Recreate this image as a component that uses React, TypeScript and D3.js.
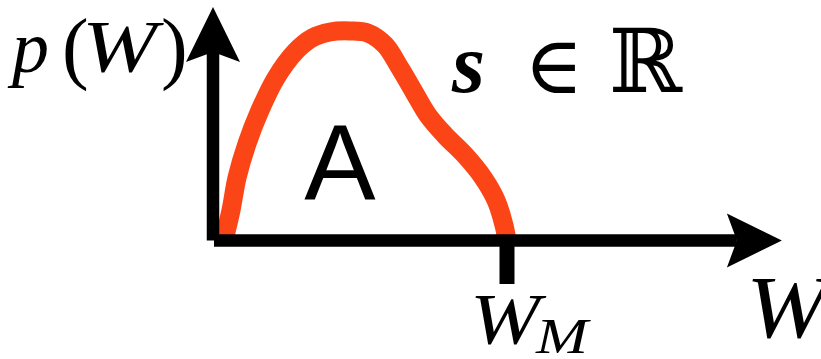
import React from "react";
import * as d3 from "d3";

// Density curve p(W), sampled along W (W_M = 1) with the peak normalised to 1
const curveW = [0.037, 0.061, 0.082, 0.116, 0.16, 0.214, 0.279, 0.337, 0.398, 0.466, 0.527, 0.585, 0.636, 0.684, 0.731, 0.789, 0.857, 0.918, 0.963, 0.99, 1.0];
const curveP = [0.0, 0.144, 0.303, 0.466, 0.625, 0.779, 0.904, 0.971, 1.0, 1.005, 0.995, 0.938, 0.827, 0.712, 0.601, 0.505, 0.409, 0.303, 0.192, 0.072, 0.0];

// Marked position on the W axis
const tickW = [1.0];
const tickLabels = ["W"];
const tickSubs = ["M"];

const xAxisMax = 1.935;
const yAxisMax = 1.12;

const WIDTH = 821;
const HEIGHT = 359;

const SERIF = "Liberation Serif";
const SANS = "Liberation Sans";
const MATH = "DejaVu Serif";

export default function App() {
  const x = d3.scaleLinear().domain([0, 1]).range([213, 507]);
  const y = d3.scaleLinear().domain([0, 1]).range([240.5, 32]);

  const pts: [number, number][] = curveW.map((w, i) => [w, curveP[i]]);
  const line = d3
    .line<[number, number]>()
    .x((d) => x(d[0]))
    .y((d) => y(d[1]))
    .curve(d3.curveCatmullRom.alpha(0.5));

  const x0 = x(0);
  const y0 = y(0);
  const xEnd = x(xAxisMax);
  const yEnd = y(yAxisMax);

  const axisW = 12.5;
  const headLen = 55;
  const headHalf = 27;
  const notch = 10;

  const vHead = `M${x0},${yEnd} L${x0 + headHalf},${yEnd + headLen} L${x0},${yEnd + headLen - notch} L${x0 - headHalf},${yEnd + headLen} Z`;
  const hHead = `M${xEnd},${y0} L${xEnd - headLen},${y0 - headHalf} L${xEnd - headLen + notch},${y0} L${xEnd - headLen},${y0 + headHalf} Z`;

  const italic = (size: number) => ({ fontFamily: SERIF, fontStyle: "italic" as const, fontSize: size });
  const upright = (size: number) => ({ fontFamily: SERIF, fontStyle: "normal" as const, fontSize: size });

  return (
    <svg
      width={WIDTH}
      height={HEIGHT}
      viewBox={`0 0 ${WIDTH} ${HEIGHT}`}
      style={{ position: "absolute", left: 0, top: 0, display: "block", background: "#fff" }}
    >
      {/* density curve */}
      <path d={line(pts) ?? ""} fill="none" stroke="#fc4516" strokeWidth={19} strokeLinejoin="round" />

      {/* vertical axis */}
      <line x1={x0} x2={x0} y1={y0} y2={yEnd + headLen - notch} stroke="#000" strokeWidth={axisW} />
      <path d={vHead} fill="#000" />

      {/* horizontal axis */}
      <line x1={x0 + 1} x2={xEnd - headLen + notch} y1={y0} y2={y0} stroke="#000" strokeWidth={axisW} />
      <path d={hHead} fill="#000" />

      {/* tick at W_M */}
      {tickW.map((t, i) => (
        <g key={i}>
          <line x1={x(t)} x2={x(t)} y1={y0} y2={284} stroke="#000" strokeWidth={15} />
          <text x={x(t) - 37} y={343} fill="#000" style={italic(72)} textLength={70} lengthAdjust="spacingAndGlyphs">{tickLabels[i]}</text>
          <text x={x(t) + 29} y={353} fill="#000" style={italic(51)} textLength={52} lengthAdjust="spacingAndGlyphs">{tickSubs[i]}</text>
        </g>
      ))}

      {/* vertical axis label p(W) */}
      <text x={12} y={72} fill="#000" style={italic(74)}>p</text>
      <text x={62} y={74} fill="#000" style={upright(80)}>(</text>
      <text x={82} y={72} fill="#000" style={italic(74)} textLength={75} lengthAdjust="spacingAndGlyphs">W</text>
      <text x={161} y={74} fill="#000" style={upright(80)}>)</text>

      {/* horizontal axis label */}
      <text x={746} y={337} fill="#000" style={italic(89)} textLength={82} lengthAdjust="spacingAndGlyphs">W</text>

      {/* area label */}
      <text x={340} y={200} textAnchor="middle" fill="#000" style={{ fontFamily: SANS, fontSize: 107 }}>A</text>

      {/* parameter domain */}
      <text x={452} y={92} fill="#000" style={{ ...italic(85), fontWeight: "bold" }}>s</text>
      <text x={524} y={93} fill="#000" style={{ fontFamily: MATH, fontSize: 80 }}>∈</text>
      <text x={609} y={92} fill="#000" style={{ fontFamily: MATH, fontSize: 88 }}>ℝ</text>
    </svg>
  );
}
